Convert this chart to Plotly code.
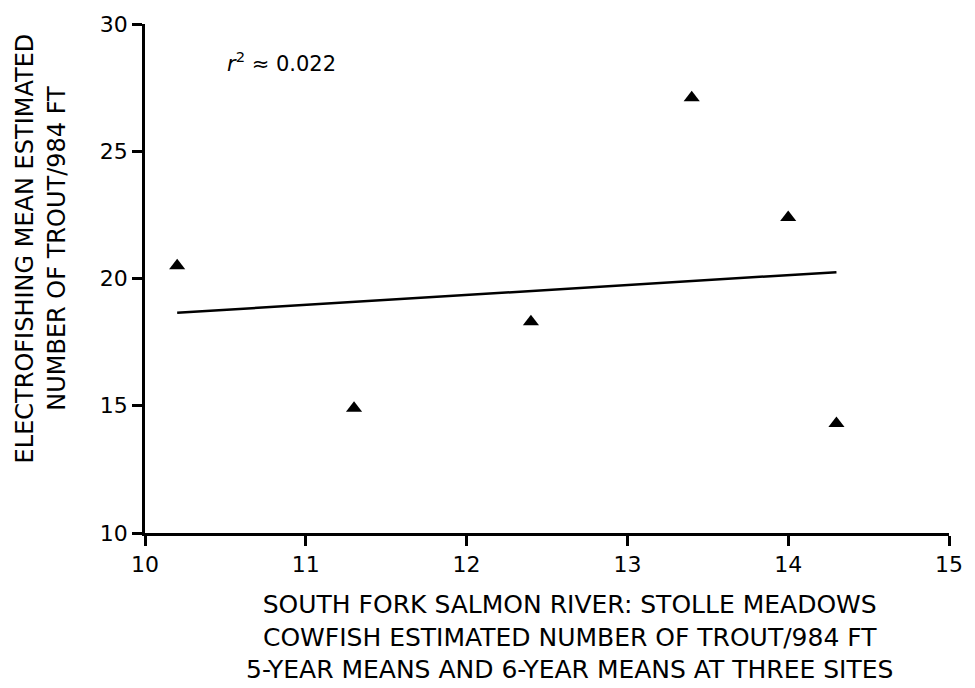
import plotly.graph_objects as go

# Data
cowfish_x = [10.2, 11.3, 12.4, 13.4, 14.0, 14.3]
electro_y = [20.5, 14.9, 18.3, 27.1, 22.4, 14.3]
fit_x = [10.2, 14.3]
fit_y = [18.65, 20.25]
x_ticks = [10, 11, 12, 13, 14, 15]
y_ticks = [10, 15, 20, 25, 30]
r2_text = "<i>r</i><sup>2</sup> ≈ 0.022"
x_title = ("SOUTH FORK SALMON RIVER: STOLLE MEADOWS<br>"
           "COWFISH ESTIMATED NUMBER OF TROUT/984 FT<br>"
           "5-YEAR MEANS AND 6-YEAR MEANS AT THREE SITES")
y_title = "ELECTROFISHING MEAN ESTIMATED<br>NUMBER OF TROUT/984 FT"

FONT = "DejaVu Sans, Liberation Sans, sans-serif"

fig = go.Figure()
fig.add_trace(go.Scatter(
    x=fit_x, y=fit_y, mode="lines",
    line=dict(color="black", width=2.5),
    showlegend=False, hoverinfo="skip"))
fig.add_trace(go.Scatter(
    x=cowfish_x, y=electro_y, mode="markers",
    marker=dict(symbol="triangle-up", size=14, color="black"),
    showlegend=False))

fig.add_annotation(x=10.5, y=28.5, text=r2_text, showarrow=False,
                   xanchor="left", yanchor="middle",
                   font=dict(family=FONT, size=21, color="black"))

# axis titles as annotations (positioned like the reference)
fig.add_annotation(xref="paper", yref="paper", x=0.528, y=-0.11,
                   text=x_title, showarrow=False, xanchor="center", yanchor="top",
                   borderpad=0,
                   font=dict(family=FONT, size=25, color="black"))
fig.add_annotation(xref="paper", yref="paper", x=-0.168, y=0.56,
                   text=y_title, showarrow=False, textangle=-90,
                   xanchor="left", yanchor="middle",
                   font=dict(family=FONT, size=24, color="black"))

fig.update_xaxes(
    range=[10, 15], tickvals=x_ticks, showgrid=False, zeroline=False,
    showline=True, linecolor="black", linewidth=2.5,
    ticks="outside", ticklen=10, tickwidth=2.5, tickcolor="black",
    tickfont=dict(family=FONT, size=22, color="black"))
fig.update_yaxes(
    range=[10, 30], tickvals=y_ticks, showgrid=False, zeroline=False,
    showline=True, linecolor="black", linewidth=2.5,
    ticks="outside", ticklen=10, tickwidth=2.5, tickcolor="black",
    tickfont=dict(family=FONT, size=22, color="black"))

fig.update_layout(
    width=975, height=688,
    margin=dict(l=145, r=17, t=18, b=155),
    plot_bgcolor="white", paper_bgcolor="white",
    font=dict(family=FONT, color="black"))

fig.write_html("out.html")
